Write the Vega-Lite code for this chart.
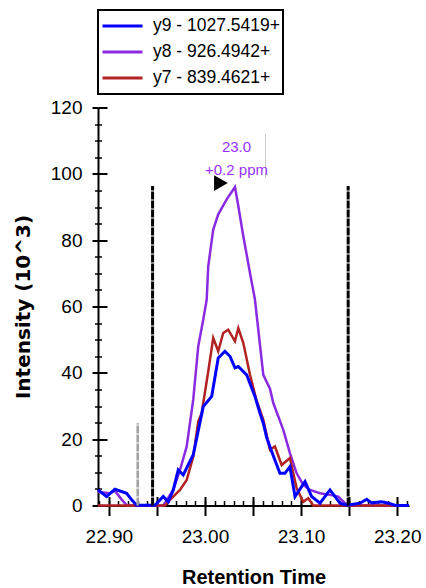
{
  "$schema": "https://vega.github.io/schema/vega-lite/v6.json",
  "width": 311,
  "height": 398,
  "autosize": {"type": "none"},
  "padding": {"left": 98, "top": 107.5, "right": 17, "bottom": 82.5},
  "background": "white",
  "config": {
    "view": {"stroke": null},
    "font": "Liberation Sans",
    "axis": {"grid": false, "domainColor": "black", "tickColor": "black", "labelColor": "black", "titleColor": "black", "labelFont": "Liberation Sans"}
  },
  "datasets": {
    "y8": [
      {"ion": "y8 - 926.4942+", "rt": 22.8887, "i": 4.1},
      {"ion": "y8 - 926.4942+", "rt": 22.9011, "i": 3.7},
      {"ion": "y8 - 926.4942+", "rt": 22.9063, "i": 4.4},
      {"ion": "y8 - 926.4942+", "rt": 22.9136, "i": 1.7},
      {"ion": "y8 - 926.4942+", "rt": 22.9188, "i": 0},
      {"ion": "y8 - 926.4942+", "rt": 22.9566, "i": 0},
      {"ion": "y8 - 926.4942+", "rt": 22.967, "i": 4.7},
      {"ion": "y8 - 926.4942+", "rt": 22.974, "i": 10.7},
      {"ion": "y8 - 926.4942+", "rt": 22.981, "i": 17.8},
      {"ion": "y8 - 926.4942+", "rt": 22.9878, "i": 31.9},
      {"ion": "y8 - 926.4942+", "rt": 22.993, "i": 48.0},
      {"ion": "y8 - 926.4942+", "rt": 22.9982, "i": 56.0},
      {"ion": "y8 - 926.4942+", "rt": 23.0018, "i": 62.1},
      {"ion": "y8 - 926.4942+", "rt": 23.0034, "i": 72.1},
      {"ion": "y8 - 926.4942+", "rt": 23.0086, "i": 83.2},
      {"ion": "y8 - 926.4942+", "rt": 23.0138, "i": 87.8},
      {"ion": "y8 - 926.4942+", "rt": 23.0226, "i": 92.3},
      {"ion": "y8 - 926.4942+", "rt": 23.0312, "i": 96.0},
      {"ion": "y8 - 926.4942+", "rt": 23.0347, "i": 90.3},
      {"ion": "y8 - 926.4942+", "rt": 23.0399, "i": 81.2},
      {"ion": "y8 - 926.4942+", "rt": 23.0468, "i": 70.2},
      {"ion": "y8 - 926.4942+", "rt": 23.052, "i": 62.1},
      {"ion": "y8 - 926.4942+", "rt": 23.0607, "i": 39.4},
      {"ion": "y8 - 926.4942+", "rt": 23.0676, "i": 35.2},
      {"ion": "y8 - 926.4942+", "rt": 23.0711, "i": 30.9},
      {"ion": "y8 - 926.4942+", "rt": 23.0815, "i": 22.8},
      {"ion": "y8 - 926.4942+", "rt": 23.0884, "i": 15.8},
      {"ion": "y8 - 926.4942+", "rt": 23.0954, "i": 9.7},
      {"ion": "y8 - 926.4942+", "rt": 23.1023, "i": 6.2},
      {"ion": "y8 - 926.4942+", "rt": 23.1093, "i": 4.7},
      {"ion": "y8 - 926.4942+", "rt": 23.1197, "i": 3.7},
      {"ion": "y8 - 926.4942+", "rt": 23.1301, "i": 3.2},
      {"ion": "y8 - 926.4942+", "rt": 23.1388, "i": 2.7},
      {"ion": "y8 - 926.4942+", "rt": 23.1457, "i": 0.7},
      {"ion": "y8 - 926.4942+", "rt": 23.151, "i": 0},
      {"ion": "y8 - 926.4942+", "rt": 23.2123, "i": 0}
    ],
    "y7": [
      {"ion": "y7 - 839.4621+", "rt": 22.8887, "i": 0},
      {"ion": "y7 - 839.4621+", "rt": 22.9584, "i": 0},
      {"ion": "y7 - 839.4621+", "rt": 22.9636, "i": 1.7},
      {"ion": "y7 - 839.4621+", "rt": 22.974, "i": 4.7},
      {"ion": "y7 - 839.4621+", "rt": 22.981, "i": 7.7},
      {"ion": "y7 - 839.4621+", "rt": 22.9878, "i": 14.7},
      {"ion": "y7 - 839.4621+", "rt": 22.993, "i": 25.3},
      {"ion": "y7 - 839.4621+", "rt": 22.9966, "i": 27.9},
      {"ion": "y7 - 839.4621+", "rt": 23.0034, "i": 40.4},
      {"ion": "y7 - 839.4621+", "rt": 23.0086, "i": 50.5},
      {"ion": "y7 - 839.4621+", "rt": 23.0138, "i": 46.5},
      {"ion": "y7 - 839.4621+", "rt": 23.019, "i": 52.0},
      {"ion": "y7 - 839.4621+", "rt": 23.0242, "i": 53.0},
      {"ion": "y7 - 839.4621+", "rt": 23.0312, "i": 49.5},
      {"ion": "y7 - 839.4621+", "rt": 23.0347, "i": 53.5},
      {"ion": "y7 - 839.4621+", "rt": 23.0399, "i": 49.0},
      {"ion": "y7 - 839.4621+", "rt": 23.0468, "i": 39.5},
      {"ion": "y7 - 839.4621+", "rt": 23.0538, "i": 31.5},
      {"ion": "y7 - 839.4621+", "rt": 23.0607, "i": 25.8},
      {"ion": "y7 - 839.4621+", "rt": 23.0676, "i": 16.8},
      {"ion": "y7 - 839.4621+", "rt": 23.0728, "i": 17.8},
      {"ion": "y7 - 839.4621+", "rt": 23.0798, "i": 12.2},
      {"ion": "y7 - 839.4621+", "rt": 23.0884, "i": 14.3},
      {"ion": "y7 - 839.4621+", "rt": 23.0954, "i": 5.2},
      {"ion": "y7 - 839.4621+", "rt": 23.1023, "i": 1.1},
      {"ion": "y7 - 839.4621+", "rt": 23.1075, "i": 2.2},
      {"ion": "y7 - 839.4621+", "rt": 23.1127, "i": 0},
      {"ion": "y7 - 839.4621+", "rt": 23.2123, "i": 0}
    ],
    "y9": [
      {"ion": "y9 - 1027.5419+", "rt": 22.8887, "i": 4.7},
      {"ion": "y9 - 1027.5419+", "rt": 22.8977, "i": 2.7},
      {"ion": "y9 - 1027.5419+", "rt": 22.9063, "i": 4.9},
      {"ion": "y9 - 1027.5419+", "rt": 22.9185, "i": 3.7},
      {"ion": "y9 - 1027.5419+", "rt": 22.9237, "i": 1.7},
      {"ion": "y9 - 1027.5419+", "rt": 22.9289, "i": 0.1},
      {"ion": "y9 - 1027.5419+", "rt": 22.948, "i": 0.1},
      {"ion": "y9 - 1027.5419+", "rt": 22.9566, "i": 2.7},
      {"ion": "y9 - 1027.5419+", "rt": 22.9618, "i": 1.1},
      {"ion": "y9 - 1027.5419+", "rt": 22.967, "i": 4.7},
      {"ion": "y9 - 1027.5419+", "rt": 22.9722, "i": 10.7},
      {"ion": "y9 - 1027.5419+", "rt": 22.9774, "i": 9.2},
      {"ion": "y9 - 1027.5419+", "rt": 22.9878, "i": 15.3},
      {"ion": "y9 - 1027.5419+", "rt": 22.9982, "i": 29.8},
      {"ion": "y9 - 1027.5419+", "rt": 23.007, "i": 32.9},
      {"ion": "y9 - 1027.5419+", "rt": 23.0138, "i": 44.5},
      {"ion": "y9 - 1027.5419+", "rt": 23.0208, "i": 46.5},
      {"ion": "y9 - 1027.5419+", "rt": 23.026, "i": 45.0},
      {"ion": "y9 - 1027.5419+", "rt": 23.0312, "i": 41.5},
      {"ion": "y9 - 1027.5419+", "rt": 23.0347, "i": 41.9},
      {"ion": "y9 - 1027.5419+", "rt": 23.0434, "i": 39.4},
      {"ion": "y9 - 1027.5419+", "rt": 23.052, "i": 32.9},
      {"ion": "y9 - 1027.5419+", "rt": 23.0572, "i": 27.9},
      {"ion": "y9 - 1027.5419+", "rt": 23.0607, "i": 24.8},
      {"ion": "y9 - 1027.5419+", "rt": 23.0642, "i": 20.5},
      {"ion": "y9 - 1027.5419+", "rt": 23.0694, "i": 16.3},
      {"ion": "y9 - 1027.5419+", "rt": 23.078, "i": 9.7},
      {"ion": "y9 - 1027.5419+", "rt": 23.0832, "i": 9.7},
      {"ion": "y9 - 1027.5419+", "rt": 23.0884, "i": 11.7},
      {"ion": "y9 - 1027.5419+", "rt": 23.0937, "i": 2.7},
      {"ion": "y9 - 1027.5419+", "rt": 23.1041, "i": 7.2},
      {"ion": "y9 - 1027.5419+", "rt": 23.111, "i": 2.7},
      {"ion": "y9 - 1027.5419+", "rt": 23.1197, "i": 0.7},
      {"ion": "y9 - 1027.5419+", "rt": 23.1301, "i": 4.7},
      {"ion": "y9 - 1027.5419+", "rt": 23.1405, "i": 0.7},
      {"ion": "y9 - 1027.5419+", "rt": 23.1475, "i": 0.1},
      {"ion": "y9 - 1027.5419+", "rt": 23.1613, "i": 0.7},
      {"ion": "y9 - 1027.5419+", "rt": 23.1683, "i": 1.9},
      {"ion": "y9 - 1027.5419+", "rt": 23.1735, "i": 0.8},
      {"ion": "y9 - 1027.5419+", "rt": 23.1839, "i": 1.1},
      {"ion": "y9 - 1027.5419+", "rt": 23.1908, "i": 0.7},
      {"ion": "y9 - 1027.5419+", "rt": 23.1977, "i": 0.1},
      {"ion": "y9 - 1027.5419+", "rt": 23.2123, "i": 0}
    ],
    "bounds": [
      {"rt": 22.9455, "i": 0, "i2": 96.3},
      {"rt": 23.149, "i": 0, "i2": 96.3}
    ],
    "greyline": [
      {"rt": 22.930, "i": 0, "i2": 24.8}
    ],
    "dotline": [
      {"rt": 23.063, "i": 98.9, "i2": 111.9}
    ],
    "annot": [
      {"rt": 23.0328, "i": 108.2, "label": "23.0"},
      {"rt": 23.0328, "i": 101.2, "label": "+0.2 ppm"}
    ],
    "apex": [
      {"rt": 23.0166, "i": 97.2}
    ]
  },
  "resolve": {"axis": {"x": "independent", "y": "independent"}},
  "layer": [
    {
      "data": {"name": "y8"},
      "mark": {"type": "line", "strokeWidth": 2.5},
      "encoding": {
        "x": {"field": "rt", "type": "quantitative", "scale": {"domain": [22.8887, 23.2123], "nice": false, "zero": false},
          "axis": {"orient": "bottom", "values": [22.9, 22.95, 23.0, 23.05, 23.1, 23.15, 23.2],
            "labelExpr": "abs(datum.value*10 - round(datum.value*10)) < 0.001 ? format(datum.value, '.2f') : ''",
            "labelFlush": false, "labelOverlap": false, "labelFontSize": 19, "labelPadding": 12,
            "tickSize": 10, "tickWidth": 2, "domainWidth": 2,
            "title": "Retention Time", "titleFontSize": 20, "titleFontWeight": "bold", "titleFont": "Liberation Sans",
            "titleX": 155.5, "titleY": 78, "titleBaseline": "alphabetic", "titleAlign": "center"}},
        "y": {"field": "i", "type": "quantitative", "scale": {"domain": [0, 120], "nice": false},
          "axis": {"orient": "left", "values": [0, 20, 40, 60, 80, 100, 120], "labelFontSize": 19, "labelPadding": 10,
            "tickSize": 6, "tickWidth": 2, "domainWidth": 2,
            "title": "Intensity (10^3)", "titleFont": "DejaVu Sans", "titleFontSize": 20, "titleFontWeight": "bold",
            "titleX": -75, "titleY": 199, "titleAngle": 270, "titleAlign": "center", "titleBaseline": "middle"}},
        "color": {"field": "ion", "type": "nominal",
          "scale": {"domain": ["y9 - 1027.5419+", "y8 - 926.4942+", "y7 - 839.4621+"], "range": ["#0000ff", "#8a2be2", "#b22222"]},
          "legend": {"orient": "none", "legendX": 0, "legendY": -97.5, "title": null,
            "symbolType": "stroke", "symbolSize": 1600, "symbolStrokeWidth": 3, "clipHeight": 26, "rowPadding": 0,
            "labelFontSize": 17.5, "labelOffset": 9, "labelColor": "black", "labelLimit": 300, "padding": 3,
            "strokeColor": "black",
            "encode": {"legend": {"update": {"strokeWidth": {"value": 2}}}}}}
      }
    },
    {
      "data": {"name": "y7"},
      "mark": {"type": "line", "strokeWidth": 2.5},
      "encoding": {
        "x": {"field": "rt", "type": "quantitative", "scale": {"domain": [22.8887, 23.2123], "nice": false, "zero": false},
          "axis": {"orient": "bottom", "values": [22.9, 22.95, 23.0, 23.05, 23.1, 23.15, 23.2], "tickSize": -9, "tickWidth": 2,
            "domain": false, "labels": false, "title": null}},
        "y": {"field": "i", "type": "quantitative", "scale": {"domain": [0, 120], "nice": false},
          "axis": {"orient": "left", "values": [0, 20, 40, 60, 80, 100, 120], "tickSize": -9, "tickWidth": 2,
            "domain": false, "labels": false, "title": null}},
        "color": {"field": "ion", "type": "nominal"}
      }
    },
    {
      "data": {"name": "y9"},
      "mark": {"type": "line", "strokeWidth": 3},
      "encoding": {
        "x": {"field": "rt", "type": "quantitative", "scale": {"domain": [22.8887, 23.2123], "nice": false, "zero": false},
          "axis": {"orient": "bottom", "values": [22.89, 22.90, 22.91, 22.92, 22.93, 22.94, 22.95, 22.96, 22.97, 22.98, 22.99, 23.00, 23.01, 23.02, 23.03, 23.04, 23.05, 23.06, 23.07, 23.08, 23.09, 23.10, 23.11, 23.12, 23.13, 23.14, 23.15, 23.16, 23.17, 23.18, 23.19, 23.20, 23.21],
            "tickSize": -5, "tickWidth": 1.5, "domain": false, "labels": false, "title": null}},
        "y": {"field": "i", "type": "quantitative", "scale": {"domain": [0, 120], "nice": false},
          "axis": {"orient": "left", "values": [5, 10, 15, 25, 30, 35, 45, 50, 55, 65, 70, 75, 85, 90, 95, 105, 110, 115],
            "tickSize": 3.5, "tickWidth": 1.5, "domain": false, "labels": false, "title": null}},
        "color": {"field": "ion", "type": "nominal"}
      }
    },
    {
      "data": {"name": "bounds"},
      "mark": {"type": "rule", "color": "black", "strokeWidth": 3, "strokeDash": [8, 1]},
      "encoding": {
        "x": {"field": "rt", "type": "quantitative", "axis": null},
        "y": {"field": "i", "type": "quantitative",
          "axis": {"orient": "left", "values": [5, 10, 15, 25, 30, 35, 45, 50, 55, 65, 70, 75, 85, 90, 95, 105, 110, 115],
            "tickSize": -3.5, "tickWidth": 1.5, "domain": false, "labels": false, "title": null}},
        "y2": {"field": "i2"}
      }
    },
    {
      "data": {"name": "greyline"},
      "mark": {"type": "rule", "color": "#a0a0a0", "strokeWidth": 2.5, "strokeDash": [8, 1]},
      "encoding": {
        "x": {"field": "rt", "type": "quantitative", "axis": null},
        "y": {"field": "i", "type": "quantitative", "axis": null},
        "y2": {"field": "i2"}
      }
    },
    {
      "data": {"name": "dotline"},
      "mark": {"type": "rule", "color": "#999999", "strokeWidth": 1, "strokeDash": [1, 1]},
      "encoding": {
        "x": {"field": "rt", "type": "quantitative", "axis": null},
        "y": {"field": "i", "type": "quantitative", "axis": null},
        "y2": {"field": "i2"}
      }
    },
    {
      "data": {"name": "annot"},
      "mark": {"type": "text", "color": "#9933ff", "fontSize": 15, "font": "Liberation Sans", "align": "center", "baseline": "middle"},
      "encoding": {
        "x": {"field": "rt", "type": "quantitative", "axis": null},
        "y": {"field": "i", "type": "quantitative", "axis": null},
        "text": {"field": "label"}
      }
    },
    {
      "data": {"name": "apex"},
      "mark": {"type": "point", "shape": "triangle-right", "filled": true, "color": "black", "size": 250, "opacity": 1},
      "encoding": {
        "x": {"field": "rt", "type": "quantitative", "axis": null},
        "y": {"field": "i", "type": "quantitative", "axis": null}
      }
    }
  ]
}
